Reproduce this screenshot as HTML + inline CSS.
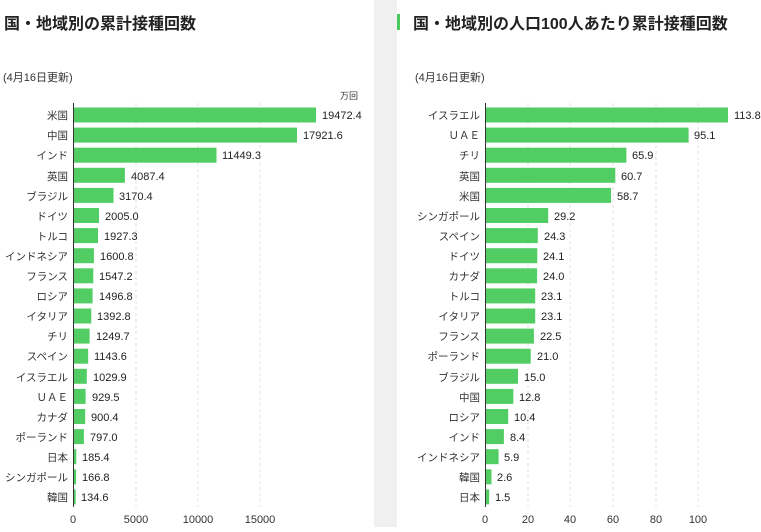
<!DOCTYPE html>
<html><head><meta charset="utf-8"><style>
body{margin:0;background:#fff;width:761px;height:527px;overflow:hidden}
svg{font-family:"Liberation Sans","Noto Sans CJK JP",sans-serif}
</style></head><body>
<svg width="761" height="527" xmlns="http://www.w3.org/2000/svg">
<rect x="374" y="0" width="23" height="527" fill="#f0f0f0"/>
<rect x="397" y="14" width="3" height="16" fill="#4cc85f"/>
<text x="4" y="29" font-size="16" font-weight="bold" fill="#222">国・地域別の累計接種回数</text>
<text x="413" y="29" font-size="16" font-weight="bold" fill="#222">国・地域別の人口100人あたり累計接種回数</text>
<text x="3" y="81" font-size="11" fill="#333">(4月16日更新)</text>
<text x="415" y="81" font-size="11" fill="#333">(4月16日更新)</text>
<text x="358" y="99" font-size="9" fill="#333" text-anchor="end">万回</text>
<g stroke="#e2e2e2" stroke-dasharray="3,3">
<line x1="136" y1="103" x2="136" y2="507"/><line x1="198" y1="103" x2="198" y2="507"/><line x1="260" y1="103" x2="260" y2="507"/>
<line x1="528" y1="103" x2="528" y2="507"/><line x1="570" y1="103" x2="570" y2="507"/><line x1="613" y1="103" x2="613" y2="507"/><line x1="656" y1="103" x2="656" y2="507"/><line x1="698" y1="103" x2="698" y2="507"/>
</g>
<g fill="#52cd64">
<rect x="74" y="107.5" width="242" height="15"/><rect x="74" y="127.6" width="223" height="15"/><rect x="74" y="147.7" width="142.5" height="15"/><rect x="74" y="167.8" width="50.9" height="15"/><rect x="74" y="187.9" width="39.5" height="15"/><rect x="74" y="208" width="25" height="15"/><rect x="74" y="228.1" width="24" height="15"/><rect x="74" y="248.2" width="19.9" height="15"/><rect x="74" y="268.3" width="19.3" height="15"/><rect x="74" y="288.4" width="18.6" height="15"/><rect x="74" y="308.5" width="17.3" height="15"/><rect x="74" y="328.6" width="15.6" height="15"/><rect x="74" y="348.7" width="14.2" height="15"/><rect x="74" y="368.8" width="12.8" height="15"/><rect x="74" y="388.9" width="11.6" height="15"/><rect x="74" y="409" width="11.2" height="15"/><rect x="74" y="429.1" width="9.9" height="15"/><rect x="74" y="449.2" width="2.3" height="15"/><rect x="74" y="469.3" width="2.1" height="15"/><rect x="74" y="489.4" width="1.7" height="15"/>
<rect x="486" y="107.5" width="242" height="15"/><rect x="486" y="127.6" width="202.6" height="15"/><rect x="486" y="147.7" width="140.4" height="15"/><rect x="486" y="167.8" width="129.3" height="15"/><rect x="486" y="187.9" width="125" height="15"/><rect x="486" y="208" width="62.2" height="15"/><rect x="486" y="228.1" width="51.8" height="15"/><rect x="486" y="248.2" width="51.3" height="15"/><rect x="486" y="268.3" width="51.1" height="15"/><rect x="486" y="288.4" width="49.2" height="15"/><rect x="486" y="308.5" width="49.2" height="15"/><rect x="486" y="328.6" width="47.9" height="15"/><rect x="486" y="348.7" width="44.7" height="15"/><rect x="486" y="368.8" width="32" height="15"/><rect x="486" y="388.9" width="27.3" height="15"/><rect x="486" y="409" width="22.2" height="15"/><rect x="486" y="429.1" width="17.9" height="15"/><rect x="486" y="449.2" width="12.6" height="15"/><rect x="486" y="469.3" width="5.5" height="15"/><rect x="486" y="489.4" width="3.2" height="15"/>
</g>
<line x1="73.5" y1="103" x2="73.5" y2="507" stroke="#333"/>
<line x1="485.5" y1="103" x2="485.5" y2="507" stroke="#333"/>
<g font-size="10.5" fill="#333" text-anchor="end">
<text x="68" y="119">米国</text><text x="68" y="139">中国</text><text x="68" y="159">インド</text><text x="68" y="180">英国</text><text x="68" y="200">ブラジル</text><text x="68" y="220">ドイツ</text><text x="68" y="240">トルコ</text><text x="68" y="260">インドネシア</text><text x="68" y="280">フランス</text><text x="68" y="300">ロシア</text><text x="68" y="320">イタリア</text><text x="68" y="340">チリ</text><text x="68" y="360">スペイン</text><text x="68" y="381">イスラエル</text><text x="68" y="401">ＵＡＥ</text><text x="68" y="421">カナダ</text><text x="68" y="441">ポーランド</text><text x="68" y="461">日本</text><text x="68" y="481">シンガポール</text><text x="68" y="501">韓国</text>
<text x="480" y="119">イスラエル</text><text x="480" y="139">ＵＡＥ</text><text x="480" y="159">チリ</text><text x="480" y="180">英国</text><text x="480" y="200">米国</text><text x="480" y="220">シンガポール</text><text x="480" y="240">スペイン</text><text x="480" y="260">ドイツ</text><text x="480" y="280">カナダ</text><text x="480" y="300">トルコ</text><text x="480" y="320">イタリア</text><text x="480" y="340">フランス</text><text x="480" y="360">ポーランド</text><text x="480" y="381">ブラジル</text><text x="480" y="401">中国</text><text x="480" y="421">ロシア</text><text x="480" y="441">インド</text><text x="480" y="461">インドネシア</text><text x="480" y="481">韓国</text><text x="480" y="501">日本</text>
</g>
<g font-size="11" fill="#222">
<text x="322" y="119">19472.4</text><text x="303" y="139">17921.6</text><text x="222" y="159">11449.3</text><text x="131" y="180">4087.4</text><text x="119" y="200">3170.4</text><text x="105" y="220">2005.0</text><text x="104" y="240">1927.3</text><text x="100" y="260">1600.8</text><text x="99" y="280">1547.2</text><text x="99" y="300">1496.8</text><text x="97" y="320">1392.8</text><text x="96" y="340">1249.7</text><text x="94" y="360">1143.6</text><text x="93" y="381">1029.9</text><text x="92" y="401">929.5</text><text x="91" y="421">900.4</text><text x="90" y="441">797.0</text><text x="82" y="461">185.4</text><text x="82" y="481">166.8</text><text x="81" y="501">134.6</text>
<text x="734" y="119">113.8</text><text x="694" y="139">95.1</text><text x="632" y="159">65.9</text><text x="621" y="180">60.7</text><text x="617" y="200">58.7</text><text x="554" y="220">29.2</text><text x="544" y="240">24.3</text><text x="543" y="260">24.1</text><text x="543" y="280">24.0</text><text x="541" y="300">23.1</text><text x="541" y="320">23.1</text><text x="540" y="340">22.5</text><text x="537" y="360">21.0</text><text x="524" y="381">15.0</text><text x="519" y="401">12.8</text><text x="514" y="421">10.4</text><text x="510" y="441">8.4</text><text x="504" y="461">5.9</text><text x="497" y="481">2.6</text><text x="495" y="501">1.5</text>
</g>
<g font-size="11" fill="#333" text-anchor="middle">
<text x="73" y="523">0</text><text x="136" y="523">5000</text><text x="198" y="523">10000</text><text x="260" y="523">15000</text>
<text x="485" y="523">0</text><text x="528" y="523">20</text><text x="570" y="523">40</text><text x="613" y="523">60</text><text x="656" y="523">80</text><text x="698" y="523">100</text>
</g>
</svg>
</body></html>
